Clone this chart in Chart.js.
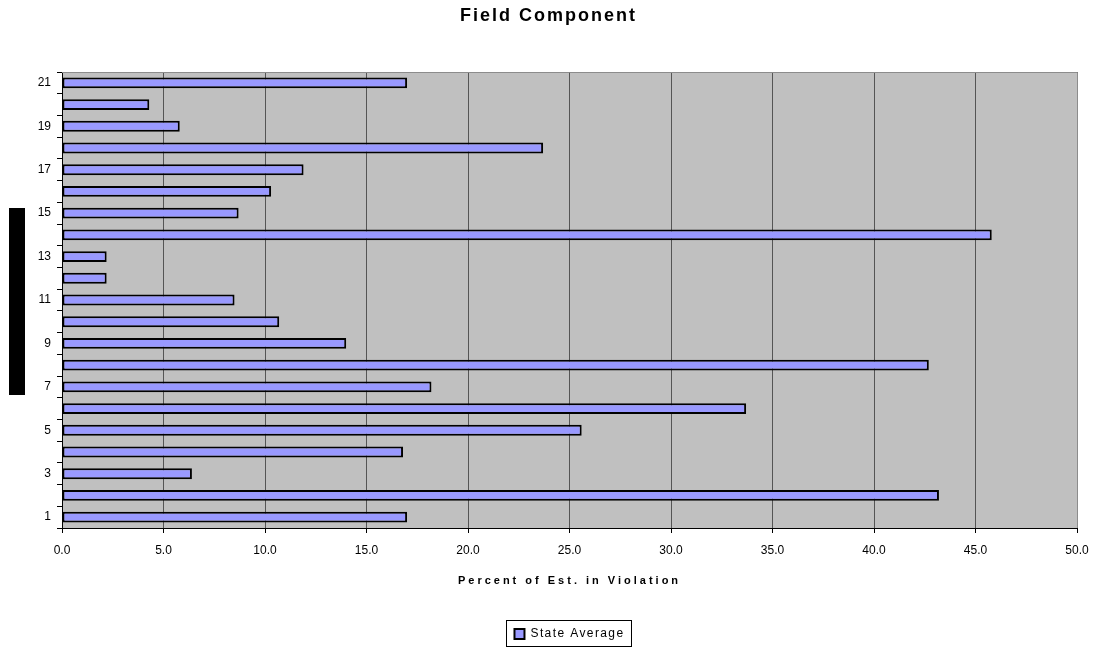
<!DOCTYPE html>
<html>
<head>
<meta charset="utf-8">
<script src="https://cdn.jsdelivr.net/npm/chart.js@4/dist/chart.umd.min.js"></script>
<style>
  html,body{margin:0;padding:0;background:#fff;}
  #wrap{width:1096px;height:651px;position:relative;}
</style>
</head>
<body>
<div id="wrap"><canvas id="c" width="1096" height="651"></canvas></div>
<script>
const categories = ['1','2','3','4','5','6','7','8','9','10','11','12','13','14','15','16','17','18','19','20','21'];
const stateAverage = [17.0, 43.2, 6.4, 16.8, 25.6, 33.7, 18.2, 42.7, 14.0, 10.7, 8.5, 2.2, 2.2, 45.8, 8.7, 10.3, 11.9, 23.7, 5.8, 4.3, 17.0];
const seriesName = 'State Average';
const chartTitle = 'Field Component';
const xTitle = 'Percent of Est. in Violation';

const LEGEND_DX = 31;
const TITLE_DX = 10;

function wrapSpacing(obj, method, spacing, dx) {
  const orig = obj[method].bind(obj);
  obj[method] = function() {
    const ctx = obj.ctx;
    ctx.save();
    ctx.letterSpacing = spacing;
    if (dx) ctx.translate(dx, 0);
    const r = orig.apply(null, arguments);
    ctx.restore();
    return r;
  };
}

const decor = {
  id: 'decor',
  afterInit(chart) {
    if (chart.legend) {
      wrapSpacing(chart.legend, 'fit', '1.4px', 0);
      wrapSpacing(chart.legend, 'draw', '1.4px', LEGEND_DX);
    }
    if (chart.titleBlock) {
      wrapSpacing(chart.titleBlock, 'draw', '2px', TITLE_DX);
    }
  },
  afterLayout(chart) {
    const sx = chart.scales.x;
    if (sx && !sx._patched) {
      wrapSpacing(sx, 'drawTitle', '3px', 0);
      sx._patched = true;
    }
  },
  beforeDraw(chart) {
    const {ctx, chartArea: a} = chart;
    ctx.save();
    ctx.fillStyle = '#C0C0C0';
    ctx.fillRect(a.left, a.top, a.right - a.left, a.bottom - a.top);
    // redacted axis title block
    ctx.fillStyle = '#000';
    ctx.fillRect(9, 208, 16, 187);
    ctx.restore();
  },
  afterDraw(chart) {
    const {ctx, chartArea: a} = chart;
    ctx.save();
    ctx.strokeStyle = '#8c8c8c';
    ctx.lineWidth = 1;
    ctx.beginPath();
    ctx.moveTo(a.left, a.top + 0.5);
    ctx.lineTo(a.right + 0.5, a.top + 0.5);
    ctx.lineTo(a.right + 0.5, a.bottom);
    ctx.stroke();
    // legend frame
    const lg = chart.legend;
    if (lg && lg.legendHitBoxes && lg.legendHitBoxes.length) {
      const hb = lg.legendHitBoxes[0];
      ctx.strokeStyle = '#000';
      ctx.strokeRect(Math.round(hb.left + LEGEND_DX) - 7.5, Math.round(hb.top) - 7.5, Math.round(hb.width) + 15, Math.round(hb.height) + 14);
    }
    ctx.restore();
  }
};

new Chart(document.getElementById('c'), {
  type: 'bar',
  data: {
    labels: categories,
    datasets: [{
      label: seriesName,
      data: stateAverage,
      backgroundColor: '#9999FF',
      borderColor: '#000000',
      borderWidth: 2,
      borderSkipped: false,
      barPercentage: 0.5,
      categoryPercentage: 1.0
    }]
  },
  options: {
    indexAxis: 'y',
    responsive: false,
    animation: false,
    layout: { padding: { left: 0, right: 19, top: 0, bottom: 1 } },
    plugins: {
      title: {
        display: true,
        text: chartTitle,
        color: '#000',
        font: { family: 'Liberation Sans', size: 18, weight: 'bold' },
        padding: { top: 5, bottom: 45.4 }
      },
      legend: {
        display: true,
        position: 'bottom',
        labels: {
          color: '#000',
          font: { family: 'Liberation Sans', size: 12 },
          boxWidth: 10,
          boxHeight: 10,
          padding: 10,
          useBorderRadius: false
        }
      },
      tooltip: { enabled: false }
    },
    scales: {
      x: {
        min: 0,
        max: 50,
        ticks: {
          stepSize: 5,
          color: '#000',
          font: { family: 'Liberation Sans', size: 12 },
          padding: 10,
          maxRotation: 0,
          callback: (v) => Number(v).toFixed(1)
        },
        grid: {
          color: '#555555',
          lineWidth: 1,
          tickLength: 5,
          tickColor: '#000'
        },
        border: { color: '#000', width: 1 },
        title: {
          display: true,
          text: xTitle,
          color: '#000',
          font: { family: 'Liberation Sans', size: 11, weight: 'bold' },
          padding: { top: 14, bottom: 30 }
        },
        afterFit(scale) { scale.height = 90; scale.paddingLeft = 0; scale.paddingRight = 0; }
      },
      y: {
        reverse: true,
        offset: true,
        ticks: {
          color: '#000',
          font: { family: 'Liberation Sans', size: 12 },
          padding: 6,
          autoSkip: false,
          callback: function(v, i) {
            const lab = this.getLabelForValue(v);
            return (Number(lab) % 2 === 1) ? lab : '';
          }
        },
        grid: {
          offset: true,
          drawOnChartArea: false,
          tickLength: 5,
          color: '#000'
        },
        border: { color: '#000', width: 1 },
        afterFit(scale) { scale.width = 62; }
      }
    }
  },
  plugins: [decor]
});
</script>
</body>
</html>
